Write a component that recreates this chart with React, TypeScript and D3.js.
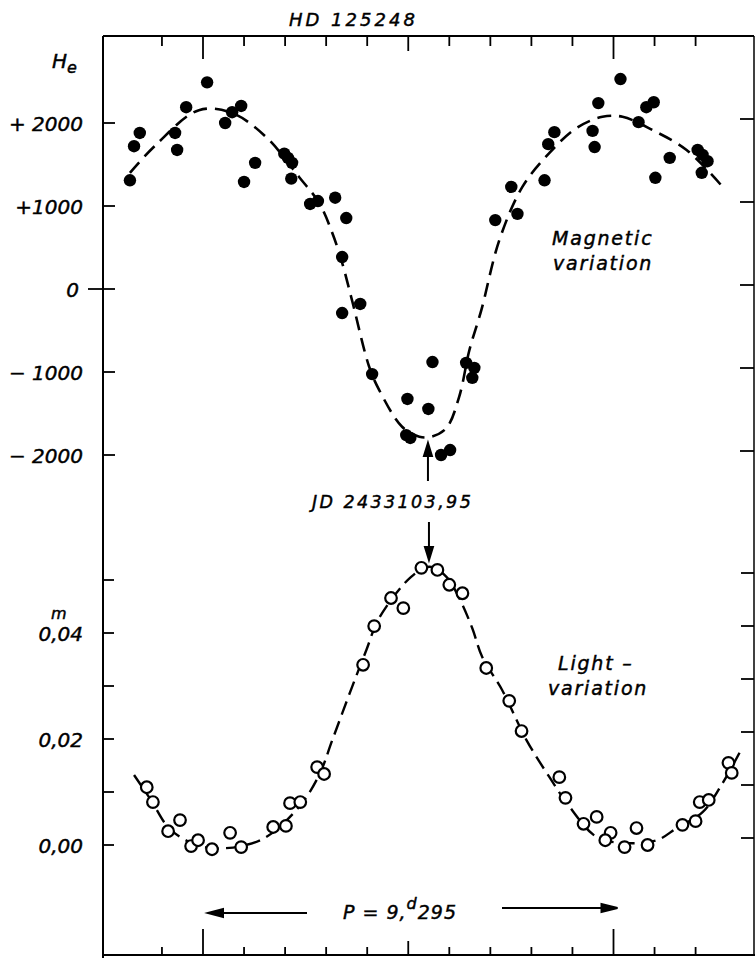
import React from 'react';
import * as d3 from 'd3';

const W = 755;
const H = 958;

// magnetic field measurements (phase in periods, He in gauss)
const magPhase = [
  -0.178, -0.168, -0.154, -0.068, -0.063, -0.041, 0.010, 0.054, 0.071, 0.093,
  0.100, 0.127, 0.198, 0.207, 0.217, 0.215, 0.261, 0.280, 0.322, 0.349,
  0.339, 0.339, 0.383, 0.412, 0.559, 0.498, 0.549, 0.495, 0.505, 0.580,
  0.602, 0.641, 0.661, 0.656, 0.712, 0.766, 0.751, 0.832, 0.841, 0.856,
  0.949, 0.954, 0.963, 1.017, 1.061, 1.080, 1.098, 1.102, 1.137, 1.205,
  1.217, 1.229, 1.215,
];
const magField = [
  1310, 1720, 1880, 1880, 1675, 2190, 2490, 2000, 2130, 2205,
  1290, 1520, 1630, 1580, 1520, 1330, 1025, 1060, 1100, 855,
  385, -290, -180, -1025, -880, -1325, -1445, -1760, -1795, -2000,
  -1940, -890, -950, -1070, 830, 905, 1230, 1310, 1745, 1890,
  1905, 1710, 2240, 2530, 2010, 2190, 2250, 1340, 1580, 1675,
  1615, 1540, 1400,
];

// dashed mean curve through the magnetic points
const magFitPhase = [
  -0.178, -0.115, -0.01, 0.071, 0.154, 0.234, 0.283, 0.315, 0.339, 0.363,
  0.405, 0.429, 0.485, 0.527, 0.556, 0.593, 0.624, 0.649, 0.678, 0.722,
  0.778, 0.844, 0.91, 0.973, 1.022, 1.095, 1.178, 1.266,
];
const magFitField = [
  1400, 1735, 2155, 2120, 1830, 1350, 1035, 675, 315, -135,
  -940, -1215, -1660, -1780, -1780, -1675, -1300, -735, -255, 590,
  1230, 1640, 1940, 2075, 2075, 1915, 1675, 1230,
];

// light variation (magnitudes)
const lightPhase = [
  -0.137, -0.122, -0.085, -0.056, -0.029, -0.012, 0.022, 0.066, 0.093, 0.171,
  0.202, 0.212, 0.237, 0.278, 0.295, 0.390, 0.417, 0.458, 0.488, 0.532,
  0.571, 0.600, 0.632, 0.690, 0.746, 0.776, 0.868, 0.883, 0.927, 0.959,
  0.993, 0.980, 1.027, 1.056, 1.083, 1.168, 1.200, 1.210, 1.232, 1.280,
  1.288,
];
const lightMag = [
  0.0109, 0.0081, 0.0026, 0.0047, -0.0002, 0.0009, -0.0008, 0.0023, -0.0004, 0.0034,
  0.0036, 0.0079, 0.0081, 0.0147, 0.0134, 0.0340, 0.0413, 0.0466, 0.0447, 0.0523,
  0.0519, 0.0491, 0.0475, 0.0334, 0.0272, 0.0215, 0.0128, 0.0089, 0.0040, 0.0053,
  0.0023, 0.0009, -0.0004, 0.0032, 0.0000, 0.0038, 0.0045, 0.0081, 0.0085, 0.0155,
  0.0136,
];

const lightFitPhase = [
  -0.168, -0.127, -0.083, -0.029, 0.022, 0.093, 0.154, 0.234, 0.283, 0.315,
  0.363, 0.398, 0.429, 0.507, 0.551, 0.593, 0.624, 0.656, 0.68, 0.729,
  0.788, 0.844, 0.893, 0.959, 1.022, 1.105, 1.154, 1.217, 1.266, 1.307,
];
const lightFitMag = [
  0.0132, 0.0085, 0.0032, 0.0004, -0.0006, -0.0002, 0.0015, 0.0072, 0.0132, 0.0198,
  0.0298, 0.0368, 0.0428, 0.0506, 0.0525, 0.0506, 0.0466, 0.0409, 0.0355, 0.0292,
  0.0198, 0.0128, 0.0072, 0.0015, 0.0004, 0.0009, 0.0032, 0.0062, 0.0117, 0.0174,
];

const fieldTicks = [2000, 1000, 0, -1000, -2000];
const fieldLabels = ['+ 2000', '+1000', '0', '− 1000', '− 2000'];
const lightTicks = [0.05, 0.04, 0.03, 0.02, 0.01, 0.0];
const lightLabelValues = [0.04, 0.02, 0.0];
const lightLabels = ['0,04', '0,02', '0,00'];
const phaseTicks = [-0.1, 0, 0.1, 0.2, 0.3, 0.4, 0.5, 0.6, 0.7, 0.8, 0.9, 1, 1.1, 1.2];
const epochPhase = 0.548;

const font = '"DejaVu Sans", sans-serif';

const App = () => {
  const x = d3.scaleLinear().domain([0, 1]).range([203, 613.5]);
  const yMag = d3.scaleLinear().domain([-2000, 2000]).range([455, 123]);
  const yLight = d3.scaleLinear().domain([0, 0.05]).range([845, 580]);

  const left = 103;
  const right = 754;
  const top = 36;
  const bottom = 955;

  const magLine = d3.line<number>()
    .x(i => x(magFitPhase[i]))
    .y(i => yMag(magFitField[i]))
    .curve(d3.curveCatmullRom.alpha(0.5));
  const lightLine = d3.line<number>()
    .x(i => x(lightFitPhase[i]))
    .y(i => yLight(lightFitMag[i]))
    .curve(d3.curveCatmullRom.alpha(0.5));

  // tall ticks at phase 0 and 1, a middle one at 0.5
  const tickLen = (p: number, small: number, mid: number, tall: number) => {
    const r = Math.round(p * 10);
    if (r === 0 || r === 10) return tall;
    if (r === 5) return mid;
    return small;
  };

  const ex = x(epochPhase);
  const p0 = x(0);
  const p1 = x(1);
  const textStyle = { fontFamily: font, fontStyle: 'italic' as const };
  const ink = { stroke: '#000', strokeWidth: 0.45 };

  return (
    <svg width={W} height={H} style={{ position: 'absolute', left: 0, top: 0, background: '#fff' }}>
      <rect width={W} height={H} fill="#fff" />

      {/* frame */}
      <g stroke="#000" fill="none" strokeWidth={2}>
        <line x1={left} y1={top} x2={right} y2={top} />
        <line x1={left} y1={top} x2={left} y2={H} />
        <line x1={left} y1={bottom} x2={W} y2={bottom} />
        <line x1={right} y1={top} x2={right} y2={bottom} strokeWidth={1.5} />
      </g>

      {/* phase ticks */}
      <g stroke="#000" strokeWidth={1.8}>
        {phaseTicks.map(p => (
          <line key={'t' + p} x1={x(p)} x2={x(p)} y1={top} y2={top + tickLen(p, 10, 15, 23)} />
        ))}
        {phaseTicks.map(p => (
          <line key={'b' + p} x1={x(p)} x2={x(p)} y1={bottom} y2={bottom - tickLen(p, 8, 14, 26)} />
        ))}
      </g>

      {/* value ticks, both sides */}
      <g stroke="#000" strokeWidth={1.8}>
        {fieldTicks.map(v => (
          <line key={'lm' + v} x1={v === 0 ? left - 15 : left} x2={left + 12} y1={yMag(v)} y2={yMag(v)} />
        ))}
        {fieldTicks.map(v => (
          <line key={'rm' + v} x1={right - 14} x2={right} y1={yMag(v) - 4} y2={yMag(v) - 4} />
        ))}
        {lightTicks.map(v => (
          <line key={'ll' + v} x1={left} x2={left + 11} y1={yLight(v)} y2={yLight(v)} />
        ))}
        {lightTicks.map(v => (
          <line key={'rl' + v} x1={right - 13} x2={right} y1={yLight(v) - 7} y2={yLight(v) - 7} />
        ))}
      </g>

      <g style={textStyle} fontSize={20} fill="#000" textAnchor="end" {...ink}>
        {fieldTicks.map((v, i) => (
          <text key={'fl' + v} x={v === 0 ? 79 : 83} y={yMag(v) + 8}>{fieldLabels[i]}</text>
        ))}
        {lightLabelValues.map((v, i) => (
          <text key={'lt' + v} x={83} y={yLight(v) + 8}>{lightLabels[i]}</text>
        ))}
      </g>

      {/* axis titles */}
      <g style={textStyle} fill="#000" {...ink}>
        <text x={52} y={68} fontSize={20}>
          H<tspan fontSize={16} dy={5}>e</tspan>
        </text>
        <text x={51} y={619} fontSize={16}>m</text>
        <text x={289} y={26} fontSize={18} letterSpacing={3}>HD  125248</text>
      </g>

      {/* fitted curves */}
      <path d={magLine(d3.range(magFitPhase.length)) || ''} fill="none" stroke="#000"
        strokeWidth={2.6} strokeDasharray="14 8" />
      <path d={lightLine(d3.range(lightFitPhase.length)) || ''} fill="none" stroke="#000"
        strokeWidth={2.4} strokeDasharray="14 7" />

      {/* observations */}
      <g fill="#000">
        {magPhase.map((p, i) => (
          <circle key={'m' + i} cx={x(p)} cy={yMag(magField[i])} r={6.2} />
        ))}
      </g>
      <g fill="#fff" stroke="#000" strokeWidth={2.2}>
        {lightPhase.map((p, i) => (
          <circle key={'l' + i} cx={x(p)} cy={yLight(lightMag[i])} r={5.8} />
        ))}
      </g>

      {/* annotations */}
      <g style={textStyle} fontSize={19} fill="#000" letterSpacing={1.8} {...ink}>
        <text x={552} y={245}>Magnetic</text>
        <text x={553} y={270}>variation</text>
        <text x={558} y={670}>Light –</text>
        <text x={548} y={695}>variation</text>
        <text x={312} y={508} fontSize={17.5} letterSpacing={2.4}>JD 2433103,95</text>
      </g>

      {/* epoch arrows */}
      <g stroke="#000" strokeWidth={2} fill="#000">
        <line x1={ex} x2={ex} y1={481} y2={452} />
        <path d={`M${ex},443 L${ex - 4},456 L${ex + 4},456 Z`} />
        <line x1={ex + 1} x2={ex + 1} y1={522} y2={550} />
        <path d={`M${ex + 1},560 L${ex - 3},547 L${ex + 5},547 Z`} />
      </g>

      {/* period */}
      <g stroke="#000" strokeWidth={2} fill="#000">
        <line x1={p0 + 10} x2={307} y1={913} y2={913} />
        <path d={`M${p0 + 5},913 L${p0 + 20},909 L${p0 + 20},917 Z`} />
        <line x1={502} x2={p1 - 10} y1={908} y2={908} />
        <path d={`M${p1 + 4},908 L${p1 - 12},904 L${p1 - 12},912 Z`} />
      </g>
      <text x={343} y={919} style={textStyle} fontSize={19} letterSpacing={1} fill="#000" {...ink}>
        P = 9,<tspan fontSize={16} dy={-10}>d</tspan><tspan dy={10}>295</tspan>
      </text>
    </svg>
  );
};

export default App;
